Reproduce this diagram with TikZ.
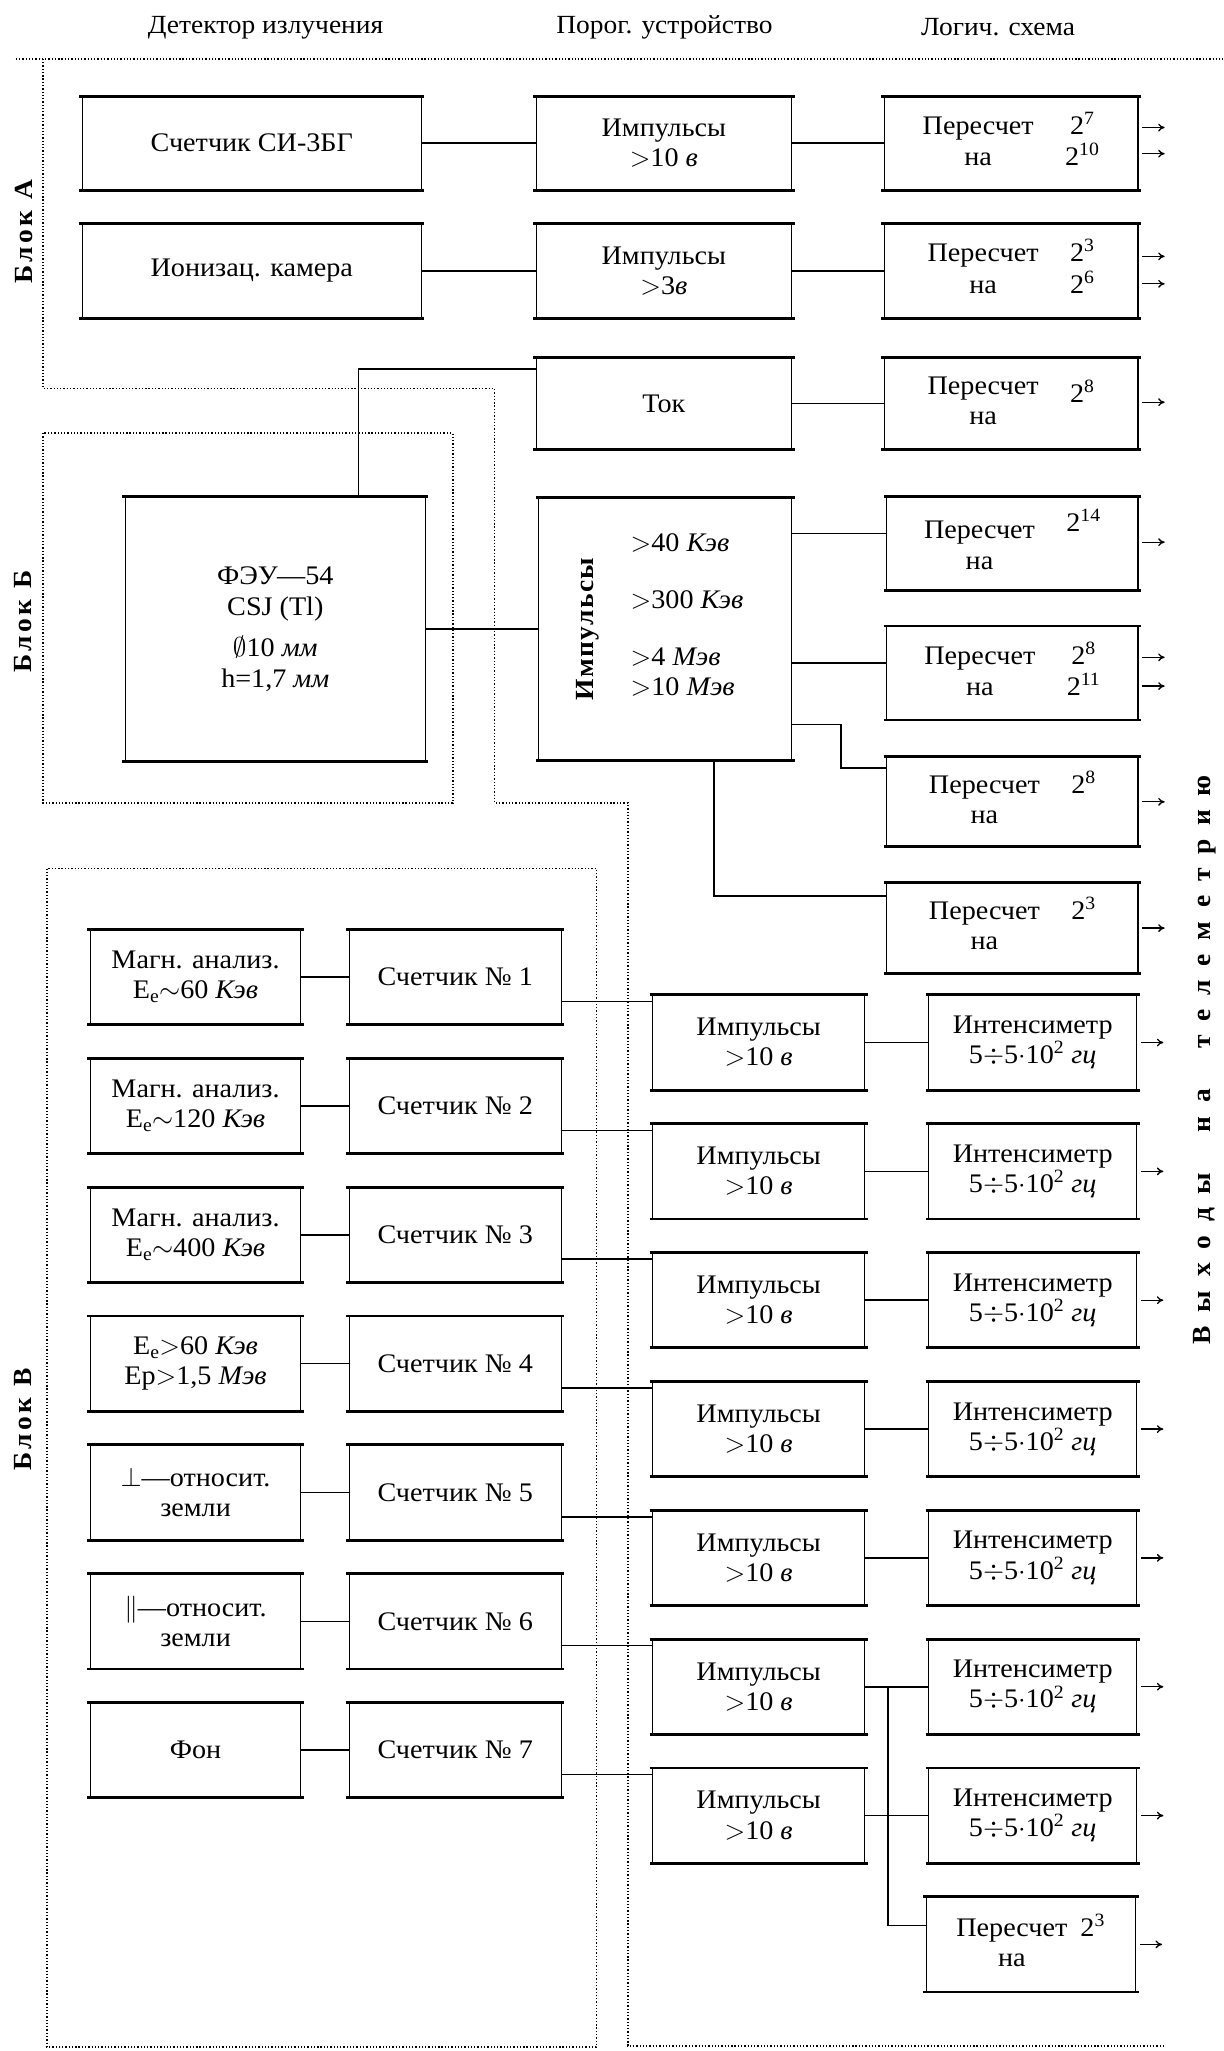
\documentclass[tikz,border=0pt]{standalone}
\usepackage{fontspec}
\setmainfont[FakeStretch=1.05]{Liberation Serif}
\usetikzlibrary{calc,arrows.meta}
\newcommand\mkbox[6]{%
  \pgfmathsetmacro\mkX{(#2+#4)/2}%
  \pgfmathsetmacro\mkY{(#3+#5)/2}%
  \pgfmathsetmacro\mkW{#4-#2}%
  \pgfmathsetmacro\mkH{#5-#3}%
  \node[box,minimum width=\mkW pt,minimum height=\mkH pt] (#1) at (\mkX,\mkY) {#6};%
  \draw[hline] ($(#1.north west)+(-2,0)$) -- ($(#1.north east)+(2,0)$);%
  \draw[hline] ($(#1.south west)+(-2,0)$) -- ($(#1.south east)+(2,0)$);%
}
\newcommand\prs[2]{\begin{tabular}{@{}c@{\hspace{24pt}}c@{}}Пересчет&#1\\на&#2\end{tabular}}
\newcommand\sps[1]{2\textsuperscript{#1}}
\newcommand\ls{\hspace{2.5pt}}
\newcommand\lsp{\hspace{10.5pt}}
\newcommand\imp{Импульсы\\$>$10 \textit{в}}
\newcommand\ints{Интенсиметр\\5$\div$5$\cdot$10\textsuperscript{2} \textit{гц}}
\begin{document}
\begin{tikzpicture}[x=1pt,y=-1pt,
  box/.style={draw,line width=0.8pt,inner sep=1pt,align=center,font=\fontsize{20.5}{23}\selectfont},
  hline/.style={line width=2.2pt},
  conn/.style={line width=1.2pt},
  dotln/.style={line width=1.4pt,dash pattern=on 1pt off 1.5pt},
  outarr/.style={line width=1pt,-{To[length=5pt,width=6pt]}},
  hdr/.style={font=\fontsize{20}{22}\selectfont},
  blk/.style={rotate=90,font=\fontsize{20}{22}\selectfont\bfseries},
  txt/.style={font=\fontsize{20.5}{23}\selectfont,inner sep=0pt}]
\fill[white] (0,0) rectangle (935,1568);
\useasboundingbox (0,0) rectangle (935,1568);

% headers
\node[hdr] (h1) at (203,21) {Детектор излучения};
\node[hdr] (h2) at (508,21) {Порог. устройство};
\node[hdr] (h3) at (763,21) {Логич. схема};

% dotted block outlines
\draw[dotln] (12,45) -- (935,45);
\draw[dotln] (33,45) -- (33,297) -- (378,297) -- (378,614) -- (480,614) -- (480,1564) -- (891,1564);
\draw[dotln] (33,331) rectangle (346,614);
\draw[dotln] (36,664) rectangle (456,1565);

% block labels
\node[blk] (bA) at (18,177) {Б\ls л\ls о\ls к\hspace{9pt}А};
\node[blk] (bB) at (18,475) {Б\ls л\ls о\ls к\hspace{9pt}Б};
\node[blk] (bV) at (18,1085) {Б\ls л\ls о\ls к\hspace{9pt}В};
\node[blk] (out) at (921,810) {В\lsp ы\lsp х\lsp о\lsp д\lsp ы\hspace{31pt}н\lsp а\hspace{31pt}т\lsp е\lsp л\lsp е\lsp м\lsp е\lsp т\lsp р\lsp и\lsp ю};

% Block A
\mkbox{d1}{63}{74}{322}{145}{Счетчик СИ-3БГ}
\mkbox{t1}{410}{74}{605}{145}{\imp}
\mkbox{l1}{676}{74}{870}{145}{\prs{\sps{7}}{\sps{10}}}
\mkbox{d2}{63}{171}{322}{243}{Ионизац. камера}
\mkbox{t2}{410}{171}{605}{243}{Импульсы\\$>$3\textit{в}}
\mkbox{l2}{676}{171}{870}{243}{\prs{\sps{3}}{\sps{6}}}
\mkbox{t3}{410}{274}{605}{343}{Ток}
\mkbox{l3}{676}{274}{870}{343}{\prs{\raisebox{-6pt}{\sps{8}}}{}}
\draw[conn] (d1) -- (t1);
\draw[conn] (t1) -- (l1);
\draw[conn] (d2) -- (t2);
\draw[conn] (t2) -- (l2);
\draw[conn] (t3) -- (l3);
\draw[outarr] ($(l1.east)+(3,-12)$) -- ++(17,0);
\draw[outarr] ($(l1.east)+(3,8)$) -- ++(17,0);
\draw[outarr] ($(l2.east)+(3,-11)$) -- ++(17,0);
\draw[outarr] ($(l2.east)+(3,10)$) -- ++(17,0);
\draw[outarr] ($(l3.east)+(3,-1)$) -- ++(17,0);

% Block B
\mkbox{feu}{96}{380}{325}{582}{ФЭУ—54\\CSJ (Tl)\\[9pt]$\emptyset$10 \textit{мм}\\h=1,7 \textit{мм}}
\mkbox{ib}{412}{381}{605}{581}{}
\node[rotate=90,font=\fontsize{20}{22}\selectfont\bfseries] (ibl) at (449,481) {И\hspace{1pt}м\hspace{1pt}п\hspace{1pt}у\hspace{1pt}л\hspace{1pt}ь\hspace{1pt}с\hspace{1pt}ы};
\node[txt,anchor=west] (e1) at (482,415) {$>$40 \textit{Кэв}};
\node[txt,anchor=west] (e2) at (482,459) {$>$300 \textit{Кэв}};
\node[txt,anchor=west] (e3) at (482,502) {$>$4 \textit{Мэв}};
\node[txt,anchor=west] (e4) at (482,525) {$>$10 \textit{Мэв}};
\mkbox{l4}{678}{380}{870}{451}{\prs{\raisebox{6pt}{\sps{14}}}{}}
\mkbox{l5}{678}{479}{870}{550}{\prs{\sps{8}}{\sps{11}}}
\mkbox{l6}{678}{579}{870}{647}{\prs{\sps{8}}{}}
\mkbox{l7}{678}{675}{870}{744}{\prs{\sps{3}}{}}
\coordinate (fup) at (274,282);
\draw[conn] (feu.north -| fup) -- (fup) -- (t3.west |- fup);
\draw[conn] (feu) -- (ib);
\coordinate (c4) at (640,408);
\draw[conn] (ib.east |- c4) -- (l4.west |- c4);
\coordinate (c5) at (640,507);
\draw[conn] (ib.east |- c5) -- (l5.west |- c5);
\coordinate (c6a) at (643,554);
\coordinate (c6b) at (643,587);
\draw[conn] (ib.east |- c6a) -- (c6a) -- (c6b) -- (l6.west |- c6b);
\coordinate (c7) at (546,685);
\draw[conn] (ib.south -| c7) -- (c7) -- (l7.west |- c7);
\draw[outarr] ($(l4.east)+(3,-1)$) -- ++(17,0);
\draw[outarr] ($(l5.east)+(3,-12)$) -- ++(17,0);
\draw[outarr] ($(l5.east)+(3,10)$) -- ++(17,0);
\draw[outarr] ($(l6.east)+(3,0)$) -- ++(17,0);
\draw[outarr] ($(l7.east)+(3,0)$) -- ++(17,0);

% Block V
\mkbox{a1}{69}{711}{230}{783}{Магн. анализ.\\E$_\mathrm{e}{\sim}$60 \textit{Кэв}}
\mkbox{a2}{69}{809.5}{230}{881.5}{Магн. анализ.\\E$_\mathrm{e}{\sim}$120 \textit{Кэв}}
\mkbox{a3}{69}{908}{230}{980}{Магн. анализ.\\E$_\mathrm{e}{\sim}$400 \textit{Кэв}}
\mkbox{a4}{69}{1006.5}{230}{1078.5}{E$_\mathrm{e}{>}$60 \textit{Кэв}\\Ep${>}$1,5 \textit{Мэв}}
\mkbox{a5}{69}{1105}{230}{1177}{$\perp$—относит.\\земли}
\mkbox{a6}{69}{1203.5}{230}{1275.5}{$\|$—относит.\\земли}
\mkbox{a7}{69}{1302}{230}{1374}{Фон}
\mkbox{c1}{267}{711}{429}{783}{Счетчик № 1}
\mkbox{c2}{267}{809.5}{429}{881.5}{Счетчик № 2}
\mkbox{c3}{267}{908}{429}{980}{Счетчик № 3}
\mkbox{c4}{267}{1006.5}{429}{1078.5}{Счетчик № 4}
\mkbox{c5}{267}{1105}{429}{1177}{Счетчик № 5}
\mkbox{c6}{267}{1203.5}{429}{1275.5}{Счетчик № 6}
\mkbox{c7}{267}{1302}{429}{1374}{Счетчик № 7}
\mkbox{p1}{499}{761}{661}{833}{\imp}
\mkbox{p2}{499}{859.5}{661}{931.5}{\imp}
\mkbox{p3}{499}{958}{661}{1030}{\imp}
\mkbox{p4}{499}{1056.5}{661}{1128.5}{\imp}
\mkbox{p5}{499}{1155}{661}{1227}{\imp}
\mkbox{p6}{499}{1253.5}{661}{1325.5}{\imp}
\mkbox{p7}{499}{1352}{661}{1424}{\imp}
\mkbox{n1}{710}{761}{869}{833}{\ints}
\mkbox{n2}{710}{859.5}{869}{931.5}{\ints}
\mkbox{n3}{710}{958}{869}{1030}{\ints}
\mkbox{n4}{710}{1056.5}{869}{1128.5}{\ints}
\mkbox{n5}{710}{1155}{869}{1227}{\ints}
\mkbox{n6}{710}{1253.5}{869}{1325.5}{\ints}
\mkbox{n7}{710}{1352}{869}{1424}{\ints}
\mkbox{n8}{708}{1450.5}{868}{1522.5}{\begin{tabular}{@{}c@{\hspace{10pt}}c@{}}Пересчет&\sps{3}\\на&\end{tabular}}
\foreach \i in {1,...,7}{
  \draw[conn] (a\i) -- (c\i);
  \path ($(p\i.north west)+(0,5)$) coordinate (q\i);
  \draw[conn] (c\i.east |- q\i) -- (q\i);
  \draw[conn] (p\i) -- (n\i);
}
\foreach \i in {1,...,8}{
  \draw[outarr] ($(n\i.east)+(3,0)$) -- ++(17,0);
}
\coordinate (v6) at (679,1289.5);
\coordinate (q8) at (679,1472);
\draw[conn] (v6) -- (q8) -- (n8.west |- q8);
\end{tikzpicture}
\end{document}
